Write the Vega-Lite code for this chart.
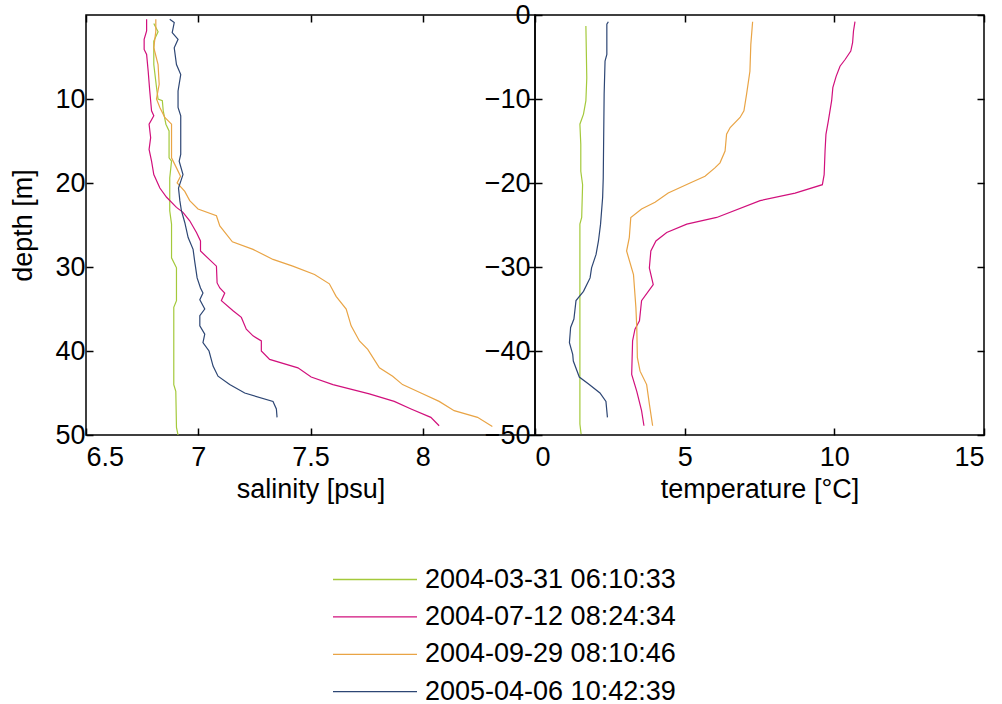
{
  "$schema": "https://vega.github.io/schema/vega-lite/v6.json",
  "padding": {"left": 9, "top": 0, "right": 0, "bottom": 0},
  "background": "white",
  "config": {
    "font": "Liberation Sans",
    "view": {"stroke": "black", "strokeWidth": 1.5},
    "axis": {"grid": false, "domain": false, "tickColor": "black", "tickWidth": 1.5, "tickSize": -7, "labelFontSize": 27, "labelColor": "black", "titleFontSize": 27, "titleFontWeight": "normal", "titleColor": "black", "labelFont": "Liberation Sans", "titleFont": "Liberation Sans"},
    "legend": {"orient": "none", "legendX": 244, "legendY": 551, "title": null, "symbolType": "M-1,0H7", "symbolSize": 441, "symbolStrokeWidth": 1.3, "labelFontSize": 27, "labelFont": "Liberation Sans", "labelColor": "black", "rowPadding": 9.4, "labelOffset": 68, "labelLimit": 0}
  },
  "datasets": {
    "sal": [
      {"date": "2004-03-31 06:10:33", "depth": 1.0, "salinity": 6.802},
      {"date": "2004-03-31 06:10:33", "depth": 2.0, "salinity": 6.821},
      {"date": "2004-03-31 06:10:33", "depth": 3.1, "salinity": 6.802},
      {"date": "2004-03-31 06:10:33", "depth": 5.9, "salinity": 6.802},
      {"date": "2004-03-31 06:10:33", "depth": 8.6, "salinity": 6.814},
      {"date": "2004-03-31 06:10:33", "depth": 10.0, "salinity": 6.821},
      {"date": "2004-03-31 06:10:33", "depth": 10.2, "salinity": 6.84},
      {"date": "2004-03-31 06:10:33", "depth": 11.4, "salinity": 6.844},
      {"date": "2004-03-31 06:10:33", "depth": 13.0, "salinity": 6.856},
      {"date": "2004-03-31 06:10:33", "depth": 13.8, "salinity": 6.87},
      {"date": "2004-03-31 06:10:33", "depth": 17.0, "salinity": 6.87},
      {"date": "2004-03-31 06:10:33", "depth": 17.4, "salinity": 6.881},
      {"date": "2004-03-31 06:10:33", "depth": 19.4, "salinity": 6.873},
      {"date": "2004-03-31 06:10:33", "depth": 23.3, "salinity": 6.873},
      {"date": "2004-03-31 06:10:33", "depth": 24.9, "salinity": 6.881},
      {"date": "2004-03-31 06:10:33", "depth": 28.9, "salinity": 6.881},
      {"date": "2004-03-31 06:10:33", "depth": 30.1, "salinity": 6.903},
      {"date": "2004-03-31 06:10:33", "depth": 34.0, "salinity": 6.903},
      {"date": "2004-03-31 06:10:33", "depth": 34.8, "salinity": 6.891},
      {"date": "2004-03-31 06:10:33", "depth": 44.0, "salinity": 6.891},
      {"date": "2004-03-31 06:10:33", "depth": 44.8, "salinity": 6.9},
      {"date": "2004-03-31 06:10:33", "depth": 49.1, "salinity": 6.903},
      {"date": "2004-03-31 06:10:33", "depth": 50.0, "salinity": 6.91},
      {"date": "2004-07-12 08:24:34", "depth": 0.5, "salinity": 6.77},
      {"date": "2004-07-12 08:24:34", "depth": 1.9, "salinity": 6.77},
      {"date": "2004-07-12 08:24:34", "depth": 2.9, "salinity": 6.759},
      {"date": "2004-07-12 08:24:34", "depth": 4.1, "salinity": 6.759},
      {"date": "2004-07-12 08:24:34", "depth": 4.7, "salinity": 6.77},
      {"date": "2004-07-12 08:24:34", "depth": 6.7, "salinity": 6.777},
      {"date": "2004-07-12 08:24:34", "depth": 9.05, "salinity": 6.784},
      {"date": "2004-07-12 08:24:34", "depth": 11.4, "salinity": 6.792},
      {"date": "2004-07-12 08:24:34", "depth": 12.0, "salinity": 6.802},
      {"date": "2004-07-12 08:24:34", "depth": 13.0, "salinity": 6.781},
      {"date": "2004-07-12 08:24:34", "depth": 14.6, "salinity": 6.788},
      {"date": "2004-07-12 08:24:34", "depth": 16.0, "salinity": 6.781},
      {"date": "2004-07-12 08:24:34", "depth": 17.4, "salinity": 6.792},
      {"date": "2004-07-12 08:24:34", "depth": 19.0, "salinity": 6.802},
      {"date": "2004-07-12 08:24:34", "depth": 20.6, "salinity": 6.829},
      {"date": "2004-07-12 08:24:34", "depth": 21.7, "salinity": 6.859},
      {"date": "2004-07-12 08:24:34", "depth": 22.9, "salinity": 6.903},
      {"date": "2004-07-12 08:24:34", "depth": 23.5, "salinity": 6.932},
      {"date": "2004-07-12 08:24:34", "depth": 24.5, "salinity": 6.962},
      {"date": "2004-07-12 08:24:34", "depth": 25.9, "salinity": 6.992},
      {"date": "2004-07-12 08:24:34", "depth": 26.9, "salinity": 7.01},
      {"date": "2004-07-12 08:24:34", "depth": 28.1, "salinity": 7.01},
      {"date": "2004-07-12 08:24:34", "depth": 29.9, "salinity": 7.081},
      {"date": "2004-07-12 08:24:34", "depth": 31.9, "salinity": 7.084},
      {"date": "2004-07-12 08:24:34", "depth": 32.5, "salinity": 7.096},
      {"date": "2004-07-12 08:24:34", "depth": 33.1, "salinity": 7.118},
      {"date": "2004-07-12 08:24:34", "depth": 34.0, "salinity": 7.103},
      {"date": "2004-07-12 08:24:34", "depth": 35.2, "salinity": 7.155},
      {"date": "2004-07-12 08:24:34", "depth": 36.0, "salinity": 7.192},
      {"date": "2004-07-12 08:24:34", "depth": 37.4, "salinity": 7.214},
      {"date": "2004-07-12 08:24:34", "depth": 38.2, "salinity": 7.244},
      {"date": "2004-07-12 08:24:34", "depth": 38.8, "salinity": 7.281},
      {"date": "2004-07-12 08:24:34", "depth": 40.0, "salinity": 7.281},
      {"date": "2004-07-12 08:24:34", "depth": 41.0, "salinity": 7.318},
      {"date": "2004-07-12 08:24:34", "depth": 42.0, "salinity": 7.444},
      {"date": "2004-07-12 08:24:34", "depth": 43.1, "salinity": 7.503},
      {"date": "2004-07-12 08:24:34", "depth": 44.0, "salinity": 7.6},
      {"date": "2004-07-12 08:24:34", "depth": 45.1, "salinity": 7.762},
      {"date": "2004-07-12 08:24:34", "depth": 46.0, "salinity": 7.873},
      {"date": "2004-07-12 08:24:34", "depth": 46.9, "salinity": 7.948},
      {"date": "2004-07-12 08:24:34", "depth": 47.9, "salinity": 8.036},
      {"date": "2004-07-12 08:24:34", "depth": 48.9, "salinity": 8.073},
      {"date": "2004-09-29 08:10:46", "depth": 0.5, "salinity": 6.811},
      {"date": "2004-09-29 08:10:46", "depth": 1.9, "salinity": 6.811},
      {"date": "2004-09-29 08:10:46", "depth": 3.9, "salinity": 6.802},
      {"date": "2004-09-29 08:10:46", "depth": 5.9, "salinity": 6.821},
      {"date": "2004-09-29 08:10:46", "depth": 8.25, "salinity": 6.826},
      {"date": "2004-09-29 08:10:46", "depth": 10.0, "salinity": 6.814},
      {"date": "2004-09-29 08:10:46", "depth": 11.0, "salinity": 6.829},
      {"date": "2004-09-29 08:10:46", "depth": 12.2, "salinity": 6.851},
      {"date": "2004-09-29 08:10:46", "depth": 13.0, "salinity": 6.881},
      {"date": "2004-09-29 08:10:46", "depth": 17.0, "salinity": 6.881},
      {"date": "2004-09-29 08:10:46", "depth": 18.2, "salinity": 6.903},
      {"date": "2004-09-29 08:10:46", "depth": 19.2, "salinity": 6.921},
      {"date": "2004-09-29 08:10:46", "depth": 20.0, "salinity": 6.906},
      {"date": "2004-09-29 08:10:46", "depth": 21.0, "salinity": 6.94},
      {"date": "2004-09-29 08:10:46", "depth": 22.1, "salinity": 6.962},
      {"date": "2004-09-29 08:10:46", "depth": 23.1, "salinity": 6.999},
      {"date": "2004-09-29 08:10:46", "depth": 23.9, "salinity": 7.081},
      {"date": "2004-09-29 08:10:46", "depth": 25.1, "salinity": 7.096},
      {"date": "2004-09-29 08:10:46", "depth": 27.0, "salinity": 7.152},
      {"date": "2004-09-29 08:10:46", "depth": 27.9, "salinity": 7.244},
      {"date": "2004-09-29 08:10:46", "depth": 29.1, "salinity": 7.333},
      {"date": "2004-09-29 08:10:46", "depth": 29.9, "salinity": 7.421},
      {"date": "2004-09-29 08:10:46", "depth": 30.9, "salinity": 7.518},
      {"date": "2004-09-29 08:10:46", "depth": 32.0, "salinity": 7.584},
      {"date": "2004-09-29 08:10:46", "depth": 33.5, "salinity": 7.614},
      {"date": "2004-09-29 08:10:46", "depth": 35.0, "salinity": 7.659},
      {"date": "2004-09-29 08:10:46", "depth": 37.0, "salinity": 7.681},
      {"date": "2004-09-29 08:10:46", "depth": 38.8, "salinity": 7.718},
      {"date": "2004-09-29 08:10:46", "depth": 39.8, "salinity": 7.755},
      {"date": "2004-09-29 08:10:46", "depth": 42.0, "salinity": 7.807},
      {"date": "2004-09-29 08:10:46", "depth": 43.0, "salinity": 7.866},
      {"date": "2004-09-29 08:10:46", "depth": 44.0, "salinity": 7.91},
      {"date": "2004-09-29 08:10:46", "depth": 45.0, "salinity": 7.992},
      {"date": "2004-09-29 08:10:46", "depth": 46.0, "salinity": 8.073},
      {"date": "2004-09-29 08:10:46", "depth": 47.1, "salinity": 8.14},
      {"date": "2004-09-29 08:10:46", "depth": 47.9, "salinity": 8.244},
      {"date": "2004-09-29 08:10:46", "depth": 49.0, "salinity": 8.31},
      {"date": "2005-04-06 10:42:39", "depth": 0.5, "salinity": 6.873},
      {"date": "2005-04-06 10:42:39", "depth": 0.9, "salinity": 6.893},
      {"date": "2005-04-06 10:42:39", "depth": 2.1, "salinity": 6.884},
      {"date": "2005-04-06 10:42:39", "depth": 2.9, "salinity": 6.91},
      {"date": "2005-04-06 10:42:39", "depth": 3.9, "salinity": 6.893},
      {"date": "2005-04-06 10:42:39", "depth": 5.9, "salinity": 6.903},
      {"date": "2005-04-06 10:42:39", "depth": 7.1, "salinity": 6.922},
      {"date": "2005-04-06 10:42:39", "depth": 9.05, "salinity": 6.91},
      {"date": "2005-04-06 10:42:39", "depth": 11.0, "salinity": 6.91},
      {"date": "2005-04-06 10:42:39", "depth": 12.0, "salinity": 6.922},
      {"date": "2005-04-06 10:42:39", "depth": 16.6, "salinity": 6.922},
      {"date": "2005-04-06 10:42:39", "depth": 17.4, "salinity": 6.915},
      {"date": "2005-04-06 10:42:39", "depth": 19.0, "salinity": 6.932},
      {"date": "2005-04-06 10:42:39", "depth": 20.6, "salinity": 6.912},
      {"date": "2005-04-06 10:42:39", "depth": 22.1, "salinity": 6.918},
      {"date": "2005-04-06 10:42:39", "depth": 23.3, "salinity": 6.925},
      {"date": "2005-04-06 10:42:39", "depth": 24.7, "salinity": 6.94},
      {"date": "2005-04-06 10:42:39", "depth": 26.5, "salinity": 6.955},
      {"date": "2005-04-06 10:42:39", "depth": 27.9, "salinity": 6.977},
      {"date": "2005-04-06 10:42:39", "depth": 29.3, "salinity": 6.984},
      {"date": "2005-04-06 10:42:39", "depth": 31.3, "salinity": 6.995},
      {"date": "2005-04-06 10:42:39", "depth": 32.5, "salinity": 7.01},
      {"date": "2005-04-06 10:42:39", "depth": 33.1, "salinity": 7.021},
      {"date": "2005-04-06 10:42:39", "depth": 33.9, "salinity": 7.007},
      {"date": "2005-04-06 10:42:39", "depth": 35.0, "salinity": 7.029},
      {"date": "2005-04-06 10:42:39", "depth": 35.8, "salinity": 7.007},
      {"date": "2005-04-06 10:42:39", "depth": 37.0, "salinity": 7.007},
      {"date": "2005-04-06 10:42:39", "depth": 38.0, "salinity": 7.029},
      {"date": "2005-04-06 10:42:39", "depth": 39.0, "salinity": 7.021},
      {"date": "2005-04-06 10:42:39", "depth": 40.0, "salinity": 7.048},
      {"date": "2005-04-06 10:42:39", "depth": 41.8, "salinity": 7.066},
      {"date": "2005-04-06 10:42:39", "depth": 43.0, "salinity": 7.088},
      {"date": "2005-04-06 10:42:39", "depth": 44.0, "salinity": 7.14},
      {"date": "2005-04-06 10:42:39", "depth": 45.0, "salinity": 7.207},
      {"date": "2005-04-06 10:42:39", "depth": 46.0, "salinity": 7.333},
      {"date": "2005-04-06 10:42:39", "depth": 46.9, "salinity": 7.348},
      {"date": "2005-04-06 10:42:39", "depth": 47.9, "salinity": 7.351}
    ],
    "temp": [
      {"date": "2004-03-31 06:10:33", "z": -1.3, "temperature": 1.70},
      {"date": "2004-03-31 06:10:33", "z": -7.5, "temperature": 1.73},
      {"date": "2004-03-31 06:10:33", "z": -10.2, "temperature": 1.70},
      {"date": "2004-03-31 06:10:33", "z": -11.8, "temperature": 1.62},
      {"date": "2004-03-31 06:10:33", "z": -13.0, "temperature": 1.50},
      {"date": "2004-03-31 06:10:33", "z": -15.4, "temperature": 1.53},
      {"date": "2004-03-31 06:10:33", "z": -18.6, "temperature": 1.53},
      {"date": "2004-03-31 06:10:33", "z": -20.2, "temperature": 1.59},
      {"date": "2004-03-31 06:10:33", "z": -24.1, "temperature": 1.56},
      {"date": "2004-03-31 06:10:33", "z": -24.9, "temperature": 1.50},
      {"date": "2004-03-31 06:10:33", "z": -28.1, "temperature": 1.50},
      {"date": "2004-03-31 06:10:33", "z": -38.8, "temperature": 1.50},
      {"date": "2004-03-31 06:10:33", "z": -44.8, "temperature": 1.50},
      {"date": "2004-03-31 06:10:33", "z": -48.7, "temperature": 1.50},
      {"date": "2004-03-31 06:10:33", "z": -49.9, "temperature": 1.54},
      {"date": "2004-07-12 08:24:34", "z": -0.8, "temperature": 10.69},
      {"date": "2004-07-12 08:24:34", "z": -1.9, "temperature": 10.64},
      {"date": "2004-07-12 08:24:34", "z": -3.3, "temperature": 10.61},
      {"date": "2004-07-12 08:24:34", "z": -4.3, "temperature": 10.55},
      {"date": "2004-07-12 08:24:34", "z": -5.3, "temperature": 10.36},
      {"date": "2004-07-12 08:24:34", "z": -6.1, "temperature": 10.19},
      {"date": "2004-07-12 08:24:34", "z": -7.3, "temperature": 10.06},
      {"date": "2004-07-12 08:24:34", "z": -8.65, "temperature": 9.95},
      {"date": "2004-07-12 08:24:34", "z": -10.2, "temperature": 9.91},
      {"date": "2004-07-12 08:24:34", "z": -12.6, "temperature": 9.80},
      {"date": "2004-07-12 08:24:34", "z": -14.2, "temperature": 9.72},
      {"date": "2004-07-12 08:24:34", "z": -16.2, "temperature": 9.69},
      {"date": "2004-07-12 08:24:34", "z": -19.0, "temperature": 9.66},
      {"date": "2004-07-12 08:24:34", "z": -20.2, "temperature": 9.60},
      {"date": "2004-07-12 08:24:34", "z": -21.2, "temperature": 8.69},
      {"date": "2004-07-12 08:24:34", "z": -22.1, "temperature": 7.52},
      {"date": "2004-07-12 08:24:34", "z": -24.1, "temperature": 6.07},
      {"date": "2004-07-12 08:24:34", "z": -24.9, "temperature": 5.07},
      {"date": "2004-07-12 08:24:34", "z": -25.9, "temperature": 4.40},
      {"date": "2004-07-12 08:24:34", "z": -26.9, "temperature": 4.04},
      {"date": "2004-07-12 08:24:34", "z": -28.1, "temperature": 3.87},
      {"date": "2004-07-12 08:24:34", "z": -30.1, "temperature": 3.82},
      {"date": "2004-07-12 08:24:34", "z": -32.1, "temperature": 3.95},
      {"date": "2004-07-12 08:24:34", "z": -34.0, "temperature": 3.56},
      {"date": "2004-07-12 08:24:34", "z": -36.4, "temperature": 3.49},
      {"date": "2004-07-12 08:24:34", "z": -37.4, "temperature": 3.34},
      {"date": "2004-07-12 08:24:34", "z": -38.8, "temperature": 3.26},
      {"date": "2004-07-12 08:24:34", "z": -42.8, "temperature": 3.23},
      {"date": "2004-07-12 08:24:34", "z": -44.8, "temperature": 3.40},
      {"date": "2004-07-12 08:24:34", "z": -47.1, "temperature": 3.56},
      {"date": "2004-07-12 08:24:34", "z": -48.9, "temperature": 3.64},
      {"date": "2004-09-29 08:10:46", "z": -0.8, "temperature": 7.27},
      {"date": "2004-09-29 08:10:46", "z": -3.5, "temperature": 7.21},
      {"date": "2004-09-29 08:10:46", "z": -6.7, "temperature": 7.18},
      {"date": "2004-09-29 08:10:46", "z": -9.4, "temperature": 7.07},
      {"date": "2004-09-29 08:10:46", "z": -11.4, "temperature": 6.98},
      {"date": "2004-09-29 08:10:46", "z": -12.2, "temperature": 6.85},
      {"date": "2004-09-29 08:10:46", "z": -13.4, "temperature": 6.52},
      {"date": "2004-09-29 08:10:46", "z": -14.2, "temperature": 6.40},
      {"date": "2004-09-29 08:10:46", "z": -16.2, "temperature": 6.35},
      {"date": "2004-09-29 08:10:46", "z": -17.6, "temperature": 6.18},
      {"date": "2004-09-29 08:10:46", "z": -18.2, "temperature": 6.01},
      {"date": "2004-09-29 08:10:46", "z": -19.2, "temperature": 5.68},
      {"date": "2004-09-29 08:10:46", "z": -20.0, "temperature": 5.18},
      {"date": "2004-09-29 08:10:46", "z": -21.2, "temperature": 4.45},
      {"date": "2004-09-29 08:10:46", "z": -22.3, "temperature": 4.01},
      {"date": "2004-09-29 08:10:46", "z": -23.1, "temperature": 3.56},
      {"date": "2004-09-29 08:10:46", "z": -24.1, "temperature": 3.20},
      {"date": "2004-09-29 08:10:46", "z": -26.5, "temperature": 3.15},
      {"date": "2004-09-29 08:10:46", "z": -28.1, "temperature": 3.06},
      {"date": "2004-09-29 08:10:46", "z": -30.9, "temperature": 3.29},
      {"date": "2004-09-29 08:10:46", "z": -34.8, "temperature": 3.37},
      {"date": "2004-09-29 08:10:46", "z": -37.2, "temperature": 3.40},
      {"date": "2004-09-29 08:10:46", "z": -40.8, "temperature": 3.42},
      {"date": "2004-09-29 08:10:46", "z": -42.4, "temperature": 3.51},
      {"date": "2004-09-29 08:10:46", "z": -44.0, "temperature": 3.73},
      {"date": "2004-09-29 08:10:46", "z": -46.3, "temperature": 3.82},
      {"date": "2004-09-29 08:10:46", "z": -48.9, "temperature": 3.93},
      {"date": "2005-04-06 10:42:39", "z": -0.8, "temperature": 2.45},
      {"date": "2005-04-06 10:42:39", "z": -1.1, "temperature": 2.40},
      {"date": "2005-04-06 10:42:39", "z": -4.7, "temperature": 2.40},
      {"date": "2005-04-06 10:42:39", "z": -5.5, "temperature": 2.34},
      {"date": "2005-04-06 10:42:39", "z": -9.4, "temperature": 2.31},
      {"date": "2005-04-06 10:42:39", "z": -19.4, "temperature": 2.28},
      {"date": "2005-04-06 10:42:39", "z": -21.7, "temperature": 2.26},
      {"date": "2005-04-06 10:42:39", "z": -24.9, "temperature": 2.19},
      {"date": "2005-04-06 10:42:39", "z": -26.9, "temperature": 2.12},
      {"date": "2005-04-06 10:42:39", "z": -28.5, "temperature": 2.04},
      {"date": "2005-04-06 10:42:39", "z": -30.1, "temperature": 1.89},
      {"date": "2005-04-06 10:42:39", "z": -31.3, "temperature": 1.84},
      {"date": "2005-04-06 10:42:39", "z": -32.9, "temperature": 1.62},
      {"date": "2005-04-06 10:42:39", "z": -34.0, "temperature": 1.37},
      {"date": "2005-04-06 10:42:39", "z": -36.2, "temperature": 1.30},
      {"date": "2005-04-06 10:42:39", "z": -37.2, "temperature": 1.19},
      {"date": "2005-04-06 10:42:39", "z": -39.0, "temperature": 1.15},
      {"date": "2005-04-06 10:42:39", "z": -40.4, "temperature": 1.26},
      {"date": "2005-04-06 10:42:39", "z": -41.2, "temperature": 1.28},
      {"date": "2005-04-06 10:42:39", "z": -43.1, "temperature": 1.48},
      {"date": "2005-04-06 10:42:39", "z": -43.9, "temperature": 1.78},
      {"date": "2005-04-06 10:42:39", "z": -45.0, "temperature": 2.17},
      {"date": "2005-04-06 10:42:39", "z": -46.0, "temperature": 2.37},
      {"date": "2005-04-06 10:42:39", "z": -47.9, "temperature": 2.42}
    ]
  },
  "spacing": 0,
  "bounds": "flush",
  "resolve": {"scale": {"color": "shared"}},
  "hconcat": [
    {
      "width": 449,
      "height": 420,
      "data": {"name": "sal"},
      "resolve": {"axis": {"x": "independent", "y": "independent"}},
      "layer": [
        {
          "mark": {"type": "line", "strokeWidth": 1.2, "clip": true},
          "encoding": {
            "x": {"field": "salinity", "type": "quantitative", "scale": {"domain": [6.5, 8.5], "nice": false, "zero": false}, "axis": {"orient": "bottom", "values": [6.5, 7, 7.5, 8], "format": ".1~f", "title": "salinity [psu]", "labelPadding": 16, "titlePadding": 6}},
            "y": {"field": "depth", "type": "quantitative", "scale": {"domain": [0, 50], "reverse": true, "nice": false, "zero": false}, "axis": {"orient": "left", "values": [10, 20, 30, 40, 50], "title": "depth [m]", "labelPadding": 8, "titlePadding": 17}},
            "color": {"field": "date", "type": "nominal", "scale": {"domain": ["2004-03-31 06:10:33", "2004-07-12 08:24:34", "2004-09-29 08:10:46", "2005-04-06 10:42:39"], "range": ["#a4c93b", "#d1107c", "#e9a445", "#2d4674"]}},
            "order": {"field": "depth", "type": "quantitative"}
          }
        },
        {
          "mark": {"type": "line", "opacity": 0},
          "encoding": {
            "x": {"field": "salinity", "type": "quantitative", "axis": {"orient": "top", "values": [6.5, 7, 7.5, 8], "labels": false, "title": null}},
            "y": {"field": "depth", "type": "quantitative", "axis": {"orient": "right", "values": [10, 20, 30, 40, 50], "labels": false, "title": null}},
            "order": {"field": "depth", "type": "quantitative"}
          }
        }
      ]
    },
    {
      "width": 449,
      "height": 420,
      "data": {"name": "temp"},
      "resolve": {"axis": {"x": "independent", "y": "independent"}},
      "layer": [
        {
          "mark": {"type": "line", "strokeWidth": 1.2, "clip": true},
          "encoding": {
            "x": {"field": "temperature", "type": "quantitative", "scale": {"domain": [0, 15], "nice": false}, "axis": {"orient": "bottom", "values": [0, 5, 10, 15], "title": "temperature [°C]", "labelPadding": 16, "titlePadding": 6}},
            "y": {"field": "z", "type": "quantitative", "scale": {"domain": [-50, 0], "nice": false, "zero": false}, "axis": {"orient": "left", "values": [0, -10, -20, -30, -40, -50], "title": null, "labelPadding": 12}},
            "color": {"field": "date", "type": "nominal"},
            "order": {"field": "z", "type": "quantitative"}
          }
        },
        {
          "mark": {"type": "line", "opacity": 0},
          "encoding": {
            "x": {"field": "temperature", "type": "quantitative", "axis": {"orient": "top", "values": [0, 5, 10, 15], "labels": false, "title": null}},
            "y": {"field": "z", "type": "quantitative", "axis": {"orient": "right", "values": [0, -10, -20, -30, -40, -50], "labels": false, "title": null}},
            "order": {"field": "z", "type": "quantitative"}
          }
        }
      ]
    }
  ]
}
